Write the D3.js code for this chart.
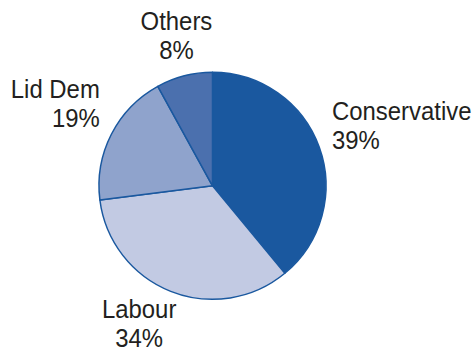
<!DOCTYPE html>
<html>
<head>
<meta charset="utf-8">
<script src="https://cdn.jsdelivr.net/npm/d3@7"></script>
<style>
  body { margin: 0; background: #fff; }
  text { font-family: "Liberation Sans Narrow", "Arial Narrow", "Liberation Sans", sans-serif; fill: #231f20; }
</style>
</head>
<body>
<div id="canvas"></div>
<script>
// data
var parties = ["Conservative", "Labour", "Lid Dem", "Others"];
var shares = [39, 34, 19, 8];

var colors = ["#1a589f", "#c2cae3", "#8fa3cc", "#4b70ae"];

var width = 472, height = 353,
    cx = 212.5, cy = 185.8, radius = 113.5;

// label placement: anchor + small nudge off the centroid
var labelAnchor = ["start", "middle", "end", "middle"];
var labelNudge = [[-17, -1.3], [-20, 12.5], [16.5, -7], [0, -0.5]];

var data = parties.map(function(p, i) { return {party: p, value: shares[i], i: i}; });

var pie = d3.pie()
    .sort(null)
    .value(function(d) { return d.value; });

var arc = d3.arc().innerRadius(0).outerRadius(radius);
var labelArc = d3.arc().innerRadius(145).outerRadius(145);

var svg = d3.select("#canvas").append("svg")
    .attr("width", width)
    .attr("height", height);

var g = svg.append("g")
    .attr("transform", "translate(" + cx + "," + cy + ")");

g.selectAll("path.slice")
    .data(pie(data))
  .enter().append("path")
    .attr("class", "slice")
    .attr("d", arc)
    .attr("fill", function(d) { return colors[d.data.i]; })
    .attr("stroke", "#1a589f")
    .attr("stroke-width", 1.5)
    .attr("stroke-linejoin", "round");

var labels = g.selectAll("g.label")
    .data(pie(data))
  .enter().append("g")
    .attr("class", "label")
    .attr("transform", function(d) {
      var c = labelArc.centroid(d), n = labelNudge[d.data.i];
      return "translate(" + (c[0] + n[0]) + "," + (c[1] + n[1]) + ") scale(0.92,1)";
    })
    .style("text-anchor", function(d) { return labelAnchor[d.data.i]; });

labels.append("text")
    .attr("y", -15)
    .style("font-size", "26px")
    .text(function(d) { return d.data.party; });

labels.append("text")
    .attr("y", 14)
    .style("font-size", "26px")
    .text(function(d) { return d.data.value + "%"; });
</script>
</body>
</html>
